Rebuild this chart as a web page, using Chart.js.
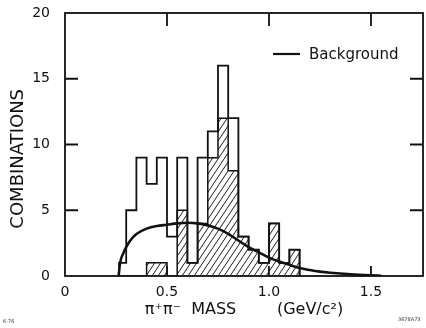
<!DOCTYPE html>
<html><head><meta charset="utf-8">
<script src="https://cdn.jsdelivr.net/npm/chart.js@4.4.1/dist/chart.umd.min.js"></script>
<style>html,body{margin:0;padding:0;background:#fff;}#wrap{width:426px;height:328px;position:relative;}</style>
</head><body><div id="wrap"><canvas id="c" width="426" height="328"></canvas></div>
<script>
// ---- data ----
const binEdges = [0.265,0.30,0.35,0.40,0.45,0.50,0.55,0.60,0.65,0.70,0.75,0.80,0.85,0.90,0.95,1.00,1.05,1.10,1.15];
const totalCounts   = [1,5,9,7,9,3,9,1,9,11,16,12,3,2,1,4,1,2];
const hatchedCounts = [0,0,0,1,1,0,5,1,4,9,12,8,3,2,1,4,1,2];
const bgMass  = [0.263,0.27,0.285,0.30,0.32,0.35,0.40,0.45,0.50,0.55,0.60,0.65,0.70,0.75,0.80,0.85,0.90,0.95,1.00,1.05,1.10,1.15,1.20,1.25,1.30,1.40,1.50,1.55];
const bgValue = [0,1.0,1.7,2.2,2.7,3.2,3.6,3.8,3.9,4.0,4.05,4.0,3.85,3.6,3.2,2.7,2.2,1.8,1.4,1.1,0.85,0.6,0.45,0.33,0.25,0.13,0.05,0.02];
const xTickLabels = ['0','0.5','1.0','1.5'];
const yTickLabels = ['0','5','10','15','20'];
const legendLabel = 'Background';
const xTitle = 'π⁺π⁻  MASS        (GeV/c²)';
const yTitle = 'COMBINATIONS';

function stepPoints(edges, counts){
  const pts=[{x:edges[0],y:0}];
  counts.forEach((c,i)=>pts.push({x:edges[i],y:c}));
  pts.push({x:edges[edges.length-1],y:0});
  return pts;
}
function makeHatch(){
  const w=6,h=9;
  const c=document.createElement('canvas'); c.width=w; c.height=h;
  const g=c.getContext('2d');
  g.strokeStyle='#1a1a1a'; g.lineWidth=1;
  g.beginPath();
  g.moveTo(0,h); g.lineTo(w,0);
  g.moveTo(-w,h); g.lineTo(0,0);
  g.moveTo(w,h); g.lineTo(2*w,0);
  g.stroke();
  return g.createPattern(c,'repeat');
}
const INK='#111';
const FONT='"DejaVu Sans", sans-serif';

const decor = {
  id:'decor',
  afterDraw(chart){
    const {ctx, chartArea:a, scales:{x,y}} = chart;
    ctx.save();
    ctx.strokeStyle=INK; ctx.lineWidth=1.8;
    ctx.strokeRect(a.left, a.top, a.right-a.left, a.bottom-a.top);
    ctx.beginPath();
    y.ticks.forEach(t=>{ if(t.value<=0||t.value>=20) return;
      const py=y.getPixelForValue(t.value);
      ctx.moveTo(a.left,py); ctx.lineTo(a.left+13,py);
      ctx.moveTo(a.right,py); ctx.lineTo(a.right-13,py);});
    x.ticks.forEach(t=>{ if(t.value<=0) return;
      const px=x.getPixelForValue(t.value);
      ctx.moveTo(px,a.top); ctx.lineTo(px,a.top+13);
      ctx.moveTo(px,a.bottom); ctx.lineTo(px,a.bottom-10);});
    ctx.stroke();
    // legend (inside plot)
    const ly=a.top+41;
    ctx.lineWidth=2.2;
    ctx.beginPath(); ctx.moveTo(a.right-150,ly); ctx.lineTo(a.right-123,ly); ctx.stroke();
    ctx.fillStyle=INK; ctx.font='15px '+FONT; ctx.textBaseline='middle'; ctx.textAlign='left';
    ctx.fillText(legendLabel, a.right-114, ly+1);
    // small archive marks
    ctx.font='5px '+FONT; ctx.fillStyle='#333';
    ctx.fillText('6-76', 3, 322);
    ctx.fillText('3678A73', 398, 320);
    ctx.restore();
  }
};

new Chart(document.getElementById('c'), {
  type:'line',
  data:{datasets:[
    {label:'total', data:stepPoints(binEdges,totalCounts), stepped:'before', borderColor:INK, borderWidth:1.8, pointRadius:0, fill:false, order:1},
    {label:'hatched', data:stepPoints(binEdges,hatchedCounts), stepped:'before', borderColor:INK, borderWidth:1.5, pointRadius:0, fill:'origin', backgroundColor:makeHatch(), order:2},
    {label:legendLabel, data:bgMass.map((m,i)=>({x:m,y:bgValue[i]})), borderColor:INK, borderWidth:2.6, pointRadius:0, fill:false, cubicInterpolationMode:'monotone', order:0}
  ]},
  options:{
    responsive:false, animation:false, devicePixelRatio:1,
    layout:{padding:{top:13,right:3,left:0,bottom:0}},
    plugins:{legend:{display:false}, tooltip:{enabled:false}},
    scales:{
      x:{type:'linear', min:0, max:1.755,
        grid:{display:false, drawTicks:false}, border:{display:false},
        ticks:{stepSize:0.5, includeBounds:false, autoSkip:false, maxRotation:0, color:INK, padding:8,
          font:{family:FONT, size:14}, callback:(v,i)=>xTickLabels[i]},
        title:{display:true, text:xTitle, color:INK, font:{family:FONT, size:16}, padding:{top:0,bottom:9}},
        afterFit(s){ s.height=52; s.paddingLeft=0; s.paddingRight=0; }
      },
      y:{min:0, max:20,
        grid:{display:false, drawTicks:false}, border:{display:false},
        ticks:{stepSize:5, color:INK, padding:15, font:{family:FONT, size:14}, callback:(v,i)=>yTickLabels[i]},
        title:{display:true, text:yTitle+'     ', color:INK, font:{family:FONT, size:18}, padding:{top:8,bottom:0}},
        afterFit(s){ s.width=65; s.paddingTop=0; s.paddingBottom=0; }
      }
    }
  },
  plugins:[decor]
});
</script></body></html>
